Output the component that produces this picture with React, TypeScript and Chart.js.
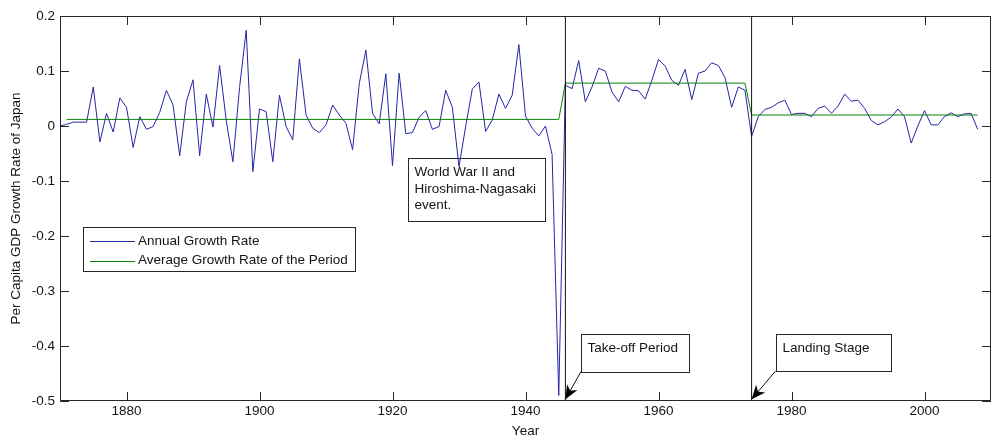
import React, { useEffect, useRef } from "react";
import { Chart, registerables } from "chart.js";

Chart.register(...registerables);

// ---------------- data ----------------
const firstYear = 1870;

// Annual per-capita GDP growth rate of Japan, 1870 .. 2008
const annualGrowth = [
  0.0, 0.003, 0.007, 0.007, 0.007, 0.071, -0.029, 0.023, -0.011, 0.051, // 1870-1879
  0.034, -0.039, 0.017, -0.006, -0.001, 0.025, 0.065, 0.038, -0.054, 0.044, // 1880-1889
  0.084, -0.054, 0.058, -0.002, 0.11, 0.01, -0.065, 0.07, 0.174, -0.083, // 1890-1899
  0.031, 0.026, -0.065, 0.056, -0.001, -0.025, 0.122, 0.02, -0.004, -0.012, // 1900-1909
  0.002, 0.038, 0.02, 0.005, -0.043, 0.077, 0.138, 0.023, 0.004, 0.095, // 1910-1919
  -0.072, 0.096, -0.014, -0.012, 0.016, 0.028, -0.006, -0.001, 0.065, 0.034, // 1920-1929
  -0.074, -0.001, 0.067, 0.08, -0.01, 0.011, 0.058, 0.032, 0.056, 0.148, // 1930-1939
  0.018, -0.004, -0.018, 0.0, -0.052, -0.49, 0.074, 0.068, 0.119, 0.044, // 1940-1949
  0.071, 0.105, 0.1, 0.062, 0.044, 0.072, 0.065, 0.064, 0.049, 0.083, // 1950-1959
  0.121, 0.109, 0.083, 0.074, 0.103, 0.048, 0.096, 0.1, 0.115, 0.11, // 1960-1969
  0.088, 0.034, 0.071, 0.065, -0.019, 0.017, 0.03, 0.034, 0.042, 0.047, // 1970-1979
  0.021, 0.023, 0.023, 0.017, 0.032, 0.036, 0.023, 0.036, 0.058, 0.045, // 1980-1989
  0.047, 0.032, 0.01, 0.002, 0.008, 0.016, 0.031, 0.017, -0.031, 0.0, // 1990-1999
  0.028, 0.002, 0.002, 0.017, 0.024, 0.017, 0.022, 0.023, -0.006, // 2000-2008
];

// Average growth of each period
const periodStartYears = [1871, 1946, 1974];
const periodEndYears = [1945, 1973, 2008];
const periodAverages = [0.012, 0.078, 0.02];

// Vertical event markers
const eventYears = [1946, 1974];

const seriesLabels = ["Annual Growth Rate", "Average Growth Rate of the Period"];
const xTickValues = [1880, 1900, 1920, 1940, 1960, 1980, 2000];
const yTickValues = [-0.5, -0.4, -0.3, -0.2, -0.1, 0, 0.1, 0.2];
const xLimits = [1870, 2010];

const annotationTexts = [
  ["World War II and", "Hiroshima-Nagasaki", "event."],
  ["Take-off Period"],
  ["Landing Stage"],
];

// ---------------- styles ----------------
const FONT_FAMILY = "'Liberation Sans', Arial, Helvetica, sans-serif";
const BLUE = "#2424a8";
const GREEN = "#0b800b";
const AXIS = "#262626";
const TEXT = "#141414";

// annotation boxes in data coordinates (left year, right year, top value, bottom value)
const annotationBoxes = [
  { x0: 1922.4, x1: 1943.0, y0: -0.0573, y1: -0.1736, arrowTo: null as null | number[] },
  { x0: 1948.35, x1: 1964.6, y0: -0.3773, y1: -0.4464, arrowTo: [1946, -0.497] },
  { x0: 1977.6, x1: 1995.0, y0: -0.3773, y1: -0.4455, arrowTo: [1974, -0.497] },
];

function fmtY(v: number): string {
  const r = Math.round(v * 10) / 10;
  if (Math.abs(r) < 1e-9) return "0";
  return r.toFixed(1);
}

const framePlugin = {
  id: "matlabFrame",
  afterDraw(chart: any) {
    const { ctx, chartArea } = chart;
    const { left, right, top, bottom } = chartArea;
    const xs = chart.scales.x;
    const ys = chart.scales.y;
    ctx.save();
    ctx.strokeStyle = AXIS;
    ctx.lineWidth = 1;
    ctx.beginPath();
    ctx.rect(left + 0.5, top + 0.5, right - left - 1, bottom - top - 1);
    ctx.stroke();
    const tl = 9;
    ctx.beginPath();
    xTickValues.forEach((v) => {
      const px = Math.round(xs.getPixelForValue(v)) + 0.5;
      ctx.moveTo(px, bottom);
      ctx.lineTo(px, bottom - tl);
      ctx.moveTo(px, top);
      ctx.lineTo(px, top + tl);
    });
    yTickValues.forEach((v) => {
      const py = Math.round(ys.getPixelForValue(v)) + 0.5;
      ctx.moveTo(left, py);
      ctx.lineTo(left + tl, py);
      ctx.moveTo(right, py);
      ctx.lineTo(right - tl, py);
    });
    ctx.stroke();
    ctx.restore();
  },
};

function drawArrowHead(ctx: CanvasRenderingContext2D, sx: number, sy: number, tx: number, ty: number) {
  const dx = tx - sx;
  const dy = ty - sy;
  const len = Math.hypot(dx, dy);
  const ux = dx / len;
  const uy = dy / len;
  const nx = -uy;
  const ny = ux;
  const L = 14;
  const W = 6;
  const notch = 4;
  ctx.beginPath();
  ctx.moveTo(tx, ty);
  ctx.lineTo(tx - ux * L + nx * W, ty - uy * L + ny * W);
  ctx.lineTo(tx - ux * (L - notch), ty - uy * (L - notch));
  ctx.lineTo(tx - ux * L - nx * W, ty - uy * L - ny * W);
  ctx.closePath();
  ctx.fill();
}

const annotationPlugin = {
  id: "textBoxes",
  beforeDatasetsDraw(chart: any) {
    const { ctx } = chart;
    const xs = chart.scales.x;
    const ys = chart.scales.y;
    ctx.save();
    ctx.font = `13.5px ${FONT_FAMILY}`;
    ctx.textBaseline = "middle";
    ctx.textAlign = "left";
    annotationBoxes.forEach((b, i) => {
      const l = Math.round(xs.getPixelForValue(b.x0)) + 0.5;
      const r = Math.round(xs.getPixelForValue(b.x1)) + 0.5;
      const t = Math.round(ys.getPixelForValue(b.y0)) + 0.5;
      const bt = Math.round(ys.getPixelForValue(b.y1)) + 0.5;
      ctx.fillStyle = "#ffffff";
      ctx.fillRect(l, t, r - l, bt - t);
      ctx.strokeStyle = AXIS;
      ctx.lineWidth = 1;
      ctx.strokeRect(l, t, r - l, bt - t);
      ctx.fillStyle = TEXT;
      annotationTexts[i].forEach((line, k) => {
        ctx.fillText(line, l + 6, t + 14 + k * 16.6);
      });
    });
    ctx.restore();
  },
  afterDatasetsDraw(chart: any) {
    const { ctx } = chart;
    const xs = chart.scales.x;
    const ys = chart.scales.y;
    ctx.save();
    ctx.strokeStyle = "#111";
    ctx.fillStyle = "#000";
    ctx.lineWidth = 1;
    annotationBoxes.forEach((b) => {
      if (!b.arrowTo) return;
      const sx = xs.getPixelForValue(b.x0);
      const sy = ys.getPixelForValue(b.y1);
      const tx = xs.getPixelForValue(b.arrowTo[0]);
      const ty = ys.getPixelForValue(b.arrowTo[1]);
      ctx.beginPath();
      ctx.moveTo(sx, sy);
      ctx.lineTo(tx, ty);
      ctx.stroke();
      drawArrowHead(ctx, sx, sy, tx, ty);
    });
    ctx.restore();
  },
};

const legendPlugin = {
  id: "matlabLegend",
  afterDraw(chart: any) {
    const { ctx } = chart;
    const items = seriesLabels.map((lab) => chart.data.datasets.find((d: any) => d.label === lab));
    const bx = 83.5;
    const by = 227.5;
    const bw = 272;
    const bh = 44;
    ctx.save();
    ctx.fillStyle = "#fff";
    ctx.fillRect(bx, by, bw, bh);
    ctx.strokeStyle = AXIS;
    ctx.lineWidth = 1;
    ctx.strokeRect(bx, by, bw, bh);
    ctx.font = `13.5px ${FONT_FAMILY}`;
    ctx.textBaseline = "middle";
    ctx.textAlign = "left";
    items.forEach((d: any, i: number) => {
      const y = by + 13.5 + i * 19.5;
      ctx.strokeStyle = d.borderColor;
      ctx.lineWidth = 1;
      ctx.beginPath();
      ctx.moveTo(bx + 6.5, Math.round(y) + 0.5);
      ctx.lineTo(bx + 51.5, Math.round(y) + 0.5);
      ctx.stroke();
      ctx.fillStyle = TEXT;
      ctx.fillText(d.label, bx + 54.5, y);
    });
    ctx.restore();
  },
};

export default function App() {
  const ref = useRef<HTMLCanvasElement>(null);

  useEffect(() => {
    document.body.style.margin = "0";
    const canvas = ref.current;
    if (!canvas) return;

    const annualPoints = annualGrowth.map((v, i) => ({ x: firstYear + i, y: v }));
    const averagePoints: { x: number; y: number }[] = [];
    periodAverages.forEach((avg, i) => {
      averagePoints.push({ x: periodStartYears[i], y: avg });
      averagePoints.push({ x: periodEndYears[i], y: avg });
    });
    const yMin = yTickValues[0];
    const yMax = yTickValues[yTickValues.length - 1];

    const eventSets = eventYears.map((yr) => ({
      label: "",
      data: [
        { x: yr, y: yMin },
        { x: yr, y: yMax },
      ],
      borderColor: "#111111",
      borderWidth: 1,
      pointRadius: 0,
      showLine: true,
    }));

    const tickFont = { family: FONT_FAMILY, size: 13.5 };

    const chart = new Chart(canvas, {
      type: "scatter",
      data: {
        datasets: [
          ...eventSets,
          {
            label: seriesLabels[1],
            data: averagePoints,
            borderColor: GREEN,
            borderWidth: 1,
            pointRadius: 0,
            showLine: true,
          },
          {
            label: seriesLabels[0],
            data: annualPoints,
            borderColor: BLUE,
            borderWidth: 1,
            pointRadius: 0,
            showLine: true,
          },
        ] as any,
      },
      options: {
        responsive: false,
        animation: false,
        devicePixelRatio: 1,
        layout: { padding: { top: 16, right: 2, left: 0, bottom: 0 } },
        plugins: {
          legend: { display: false },
          tooltip: { enabled: false },
        },
        scales: {
          x: {
            type: "linear",
            min: xLimits[0],
            max: xLimits[1],
            grid: { display: false, drawTicks: false, tickLength: 0 },
            border: { display: false },
            ticks: {
              padding: 2,
              color: TEXT,
              font: tickFont,
              maxRotation: 0,
              autoSkip: false,
              callback: (v: any) => String(v),
            },
            afterBuildTicks: (s: any) => {
              s.ticks = xTickValues.map((value) => ({ value }));
            },
            afterFit: (s: any) => {
              s.height = 40;
            },
            title: {
              display: true,
              text: "Year",
              color: TEXT,
              font: tickFont,
              padding: { top: 0, bottom: 2 },
            },
          },
          y: {
            type: "linear",
            min: yMin,
            max: yMax,
            grid: { display: false, drawTicks: false, tickLength: 0 },
            border: { display: false },
            ticks: {
              padding: 5,
              color: TEXT,
              font: tickFont,
              autoSkip: false,
              callback: (v: any) => fmtY(Number(v)),
            },
            afterBuildTicks: (s: any) => {
              s.ticks = yTickValues.map((value) => ({ value }));
            },
            afterFit: (s: any) => {
              s.width = 60;
            },
            title: {
              display: true,
              text: "Per Capita GDP Growth Rate of Japan",
              color: TEXT,
              font: tickFont,
              padding: { top: 8, bottom: 0 },
            },
          },
        },
      } as any,
      plugins: [annotationPlugin, framePlugin, legendPlugin],
    });

    return () => {
      chart.destroy();
    };
  }, []);

  return <canvas ref={ref} width={993} height={441} style={{ display: "block" }} />;
}
